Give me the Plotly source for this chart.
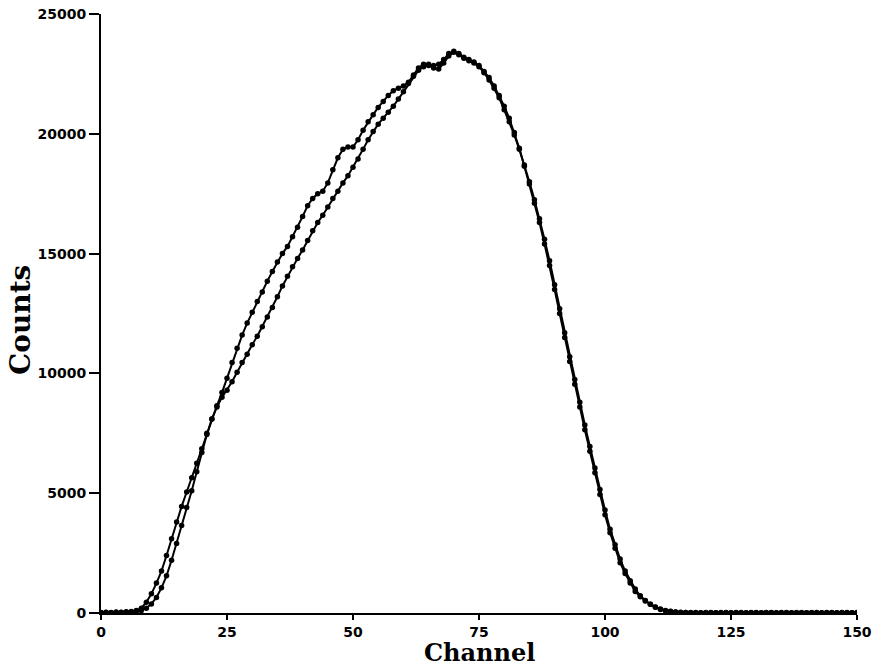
import plotly.graph_objects as go

channels = list(range(151))

counts_a = [
    20, 30, 20, 40, 30, 50, 60, 100, 200, 450,
    800, 1250, 1750, 2400, 3100, 3800, 4450, 5050, 5650, 6250,
    6850, 7500, 8100, 8650, 9200, 9800, 10450, 11050, 11600, 12100,
    12550, 13000, 13400, 13850, 14250, 14650, 15000, 15300, 15700, 16100,
    16550, 17000, 17300, 17500, 17600, 17950, 18500, 19000, 19350, 19450,
    19450, 19750, 20150, 20500, 20800, 21100, 21350, 21600, 21800, 21900,
    22000, 22150, 22450, 22750, 22900, 22900, 22850, 22900, 23100, 23350,
    23450, 23350, 23200, 23100, 23000, 22850, 22600, 22350, 22000, 21600,
    21150, 20650, 20050, 19400, 18650, 17900, 17100, 16300, 15400, 14500,
    13500, 12500, 11500, 10500, 9550, 8600, 7650, 6750, 5850, 4950,
    4100, 3350, 2700, 2100, 1650, 1250, 900, 680, 500, 360,
    240, 150, 95, 60, 40, 25, 20, 15, 20, 10,
    15, 20, 10, 15, 20, 10, 15, 20, 10, 15,
    20, 10, 15, 20, 10, 15, 20, 10, 15, 20,
    10, 15, 20, 10, 15, 20, 10, 15, 20, 10,
    15,
]

counts_b = [
    10, 20, 15, 25, 20, 30, 40, 60, 100, 200,
    380, 650, 1050, 1550, 2200, 2900, 3650, 4400, 5100, 5900,
    6700, 7450, 8100, 8600, 9000, 9300, 9650, 10050, 10450, 10800,
    11200, 11550, 11950, 12350, 12750, 13200, 13650, 14050, 14450, 14800,
    15150, 15550, 15950, 16300, 16600, 16950, 17300, 17600, 17950, 18250,
    18600, 18950, 19350, 19750, 20100, 20400, 20650, 20900, 21150, 21450,
    21750, 22100, 22400, 22650, 22800, 22850, 22750, 22700, 22950, 23250,
    23400, 23300, 23150, 23050, 22950, 22800, 22550, 22250, 21900, 21500,
    21000, 20500, 19950, 19350, 18700, 18000, 17250, 16450, 15600, 14700,
    13700, 12700, 11700, 10700, 9750, 8800, 7850, 6950, 6050, 5150,
    4300, 3500, 2850, 2250, 1750, 1350, 1000, 720, 520, 370,
    250, 165, 105, 70, 45, 30, 20, 20, 10, 15,
    20, 10, 15, 20, 10, 15, 20, 10, 15, 20,
    10, 15, 20, 10, 15, 20, 10, 15, 20, 10,
    15, 20, 10, 15, 20, 10, 15, 20, 10, 15,
    20,
]

x_ticks = [0, 25, 50, 75, 100, 125, 150]
y_ticks = [0, 5000, 10000, 15000, 20000, 25000]

fig = go.Figure()
for ys in (counts_a, counts_b):
    fig.add_trace(go.Scatter(
        x=channels, y=ys, mode="lines+markers",
        line=dict(color="black", width=2),
        marker=dict(color="black", size=5.5, symbol="circle"),
        showlegend=False,
    ))

tick_font = dict(family="DejaVu Sans", size=14, color="black", weight="bold")

L, R, T, B = 101, 23, 14, 56
W, H = 880, 669
pw, ph = W - L - R, H - T - B

fig.update_layout(
    width=W, height=H,
    margin=dict(l=L, r=R, t=T, b=B, autoexpand=False),
    paper_bgcolor="white", plot_bgcolor="white",
    xaxis=dict(
        range=[0, 150], tickvals=x_ticks, ticktext=[str(v) for v in x_ticks],
        showgrid=False, zeroline=False, showline=True, linecolor="black", linewidth=2,
        ticks="outside", ticklen=5, tickwidth=2, tickcolor="black",
        tickfont=tick_font, automargin=False,
    ),
    yaxis=dict(
        range=[0, 25000], tickvals=y_ticks, ticktext=[str(v) for v in y_ticks],
        showgrid=False, zeroline=False, showline=True, linecolor="black", linewidth=2,
        ticks="outside", ticklen=10, tickwidth=2, tickcolor="black",
        tickfont=tick_font, automargin=False,
    ),
    annotations=[
        dict(text="Channel", xref="paper", yref="paper",
             x=0.5, y=(H - B - H) / ph, xanchor="center", yanchor="bottom",
             showarrow=False,
             font=dict(family="DejaVu Serif", size=24, color="black", weight="bold")),
        dict(text="Counts", xref="paper", yref="paper",
             x=(20 - L) / pw, y=(H - B - 320) / ph, xanchor="center", yanchor="middle",
             textangle=-90, showarrow=False,
             font=dict(family="DejaVu Serif", size=28, color="black", weight="bold")),
    ],
)

fig.write_html("out.html")
